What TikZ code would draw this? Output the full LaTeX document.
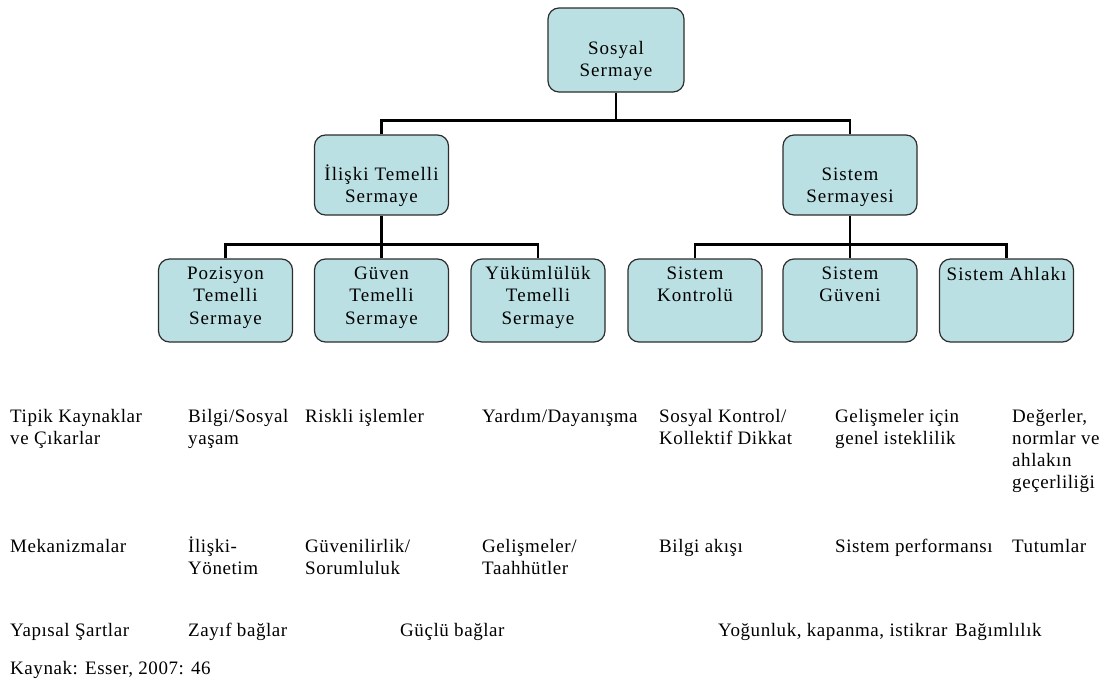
\documentclass[tikz,border=0pt]{standalone}
\usepackage{fontspec}
\setmainfont[LetterSpace=3]{Liberation Serif}
\newfontfamily\boxfont[LetterSpace=5.5]{Liberation Serif}
\usetikzlibrary{calc}
\definecolor{boxfill}{RGB}{186,224,227}
\definecolor{boxline}{RGB}{45,45,45}
\newcommand{\mlines}[2][l]{\begin{tabular}[t]{@{}#1@{}}#2\end{tabular}}
\begin{document}
\begin{tikzpicture}[x=1pt,y=-1pt,
  box/.style={draw=boxline, line width=1.2pt, fill=boxfill, rounded corners=11pt,
    minimum width=134pt, minimum height=83pt, inner sep=0pt},
  conn/.style={line width=2.8pt, black},
  txt/.style={inner sep=0pt, anchor=base west, font=\fontsize{19}{22}\selectfont},
  btxt/.style={inner sep=0pt, anchor=base, font=\boxfont\fontsize{19}{22.5}\selectfont}]
\useasboundingbox (0,0) rectangle (1104,683);
% boxes
\node[box, minimum width=136pt, minimum height=84pt] (sos) at (616,50) {};
\node[box, minimum height=80pt] (ilis) at (381.5,175) {};
\node[box, minimum height=80pt] (sis) at (850,175) {};
\node[box] (poz) at (225.5,300.5) {};
\node[box] (guv) at (381.5,300.5) {};
\node[box] (yuk) at (538,300.5) {};
\node[box] (kon) at (695,300.5) {};
\node[box] (sgu) at (850,300.5) {};
\node[box] (ahl) at (1006.5,300.5) {};
% box texts
\node[btxt] (tsos) at ($(sos.north)+(0,47)$) {\mlines[c]{Sosyal\\Sermaye}};
\node[btxt] (tilis) at ($(ilis.north)+(0,46)$) {\mlines[c]{İlişki Temelli\\Sermaye}};
\node[btxt] (tsis) at ($(sis.north)+(0,46)$) {\mlines[c]{Sistem\\Sermayesi}};
\node[btxt] (tpoz) at ($(poz.north)+(0,21)$) {\mlines[c]{Pozisyon\\Temelli\\Sermaye}};
\node[btxt] (tguv) at ($(guv.north)+(0,21)$) {\mlines[c]{Güven\\Temelli\\Sermaye}};
\node[btxt] (tyuk) at ($(yuk.north)+(0,21)$) {\mlines[c]{Yükümlülük\\Temelli\\Sermaye}};
\node[btxt] (tkon) at ($(kon.north)+(0,21)$) {\mlines[c]{Sistem\\Kontrolü}};
\node[btxt] (tsgu) at ($(sgu.north)+(0,21)$) {\mlines[c]{Sistem\\Güveni}};
\node[btxt] (tahl) at ($(ahl.north)+(0,22)$) {\mlines[c]{Sistem\ Ahlakı}};
% connectors
\draw[conn] (sos.south) -- ++(0,28) coordinate (j0);
\draw[conn] (ilis.north) |- (j0) -| (sis.north);
\draw[conn] (ilis.south) -- ++(0,29) coordinate (j1);
\draw[conn] (poz.north) |- (j1) -| (yuk.north);
\draw[conn] (j1) -- (guv.north);
\draw[conn] (sis.south) -- ++(0,29) coordinate (j2);
\draw[conn] (kon.north) |- (j2) -| (ahl.north);
\draw[conn] (j2) -- (sgu.north);
% row 1
\node[txt] (r1a) at (10,422) {\mlines{Tipik Kaynaklar\\ve Çıkarlar}};
\node[txt] (r1b) at (188,422) {\mlines{Bilgi/Sosyal\\yaşam}};
\node[txt] (r1c) at (305,422) {Riskli işlemler};
\node[txt] (r1d) at (482,422) {Yardım/Dayanışma};
\node[txt] (r1e) at (659,422) {\mlines{Sosyal Kontrol/\\Kollektif Dikkat}};
\node[txt] (r1f) at (835,422) {\mlines{Gelişmeler için\\genel isteklilik}};
\node[txt] (r1g) at (1012,422) {\mlines{Değerler,\\normlar ve\\ahlakın\\geçerliliği}};
% row 2
\node[txt] (r2a) at (10,552) {Mekanizmalar};
\node[txt] (r2b) at (188,552) {\mlines{İlişki-\\Yönetim}};
\node[txt] (r2c) at (305,552) {\mlines{Güvenilirlik/\\Sorumluluk}};
\node[txt] (r2d) at (482,552) {\mlines{Gelişmeler/\\Taahhütler}};
\node[txt] (r2e) at (659,552) {Bilgi akışı};
\node[txt] (r2f) at (835,552) {Sistem performansı};
\node[txt] (r2g) at (1012,552) {Tutumlar};
% row 3
\node[txt] (r3a) at (10,636) {Yapısal Şartlar};
\node[txt] (r3b) at (188,636) {Zayıf bağlar};
\node[txt] (r3c) at (400,636) {Güçlü bağlar};
\node[txt] (r3d) at (718,636) {Yoğunluk, kapanma, istikrar};
\node[txt] (r3e) at (955,636) {Bağımlılık};
% source
\node[txt] (src) at (10,674) {Kaynak: Esser, 2007: 46};
\end{tikzpicture}
\end{document}
